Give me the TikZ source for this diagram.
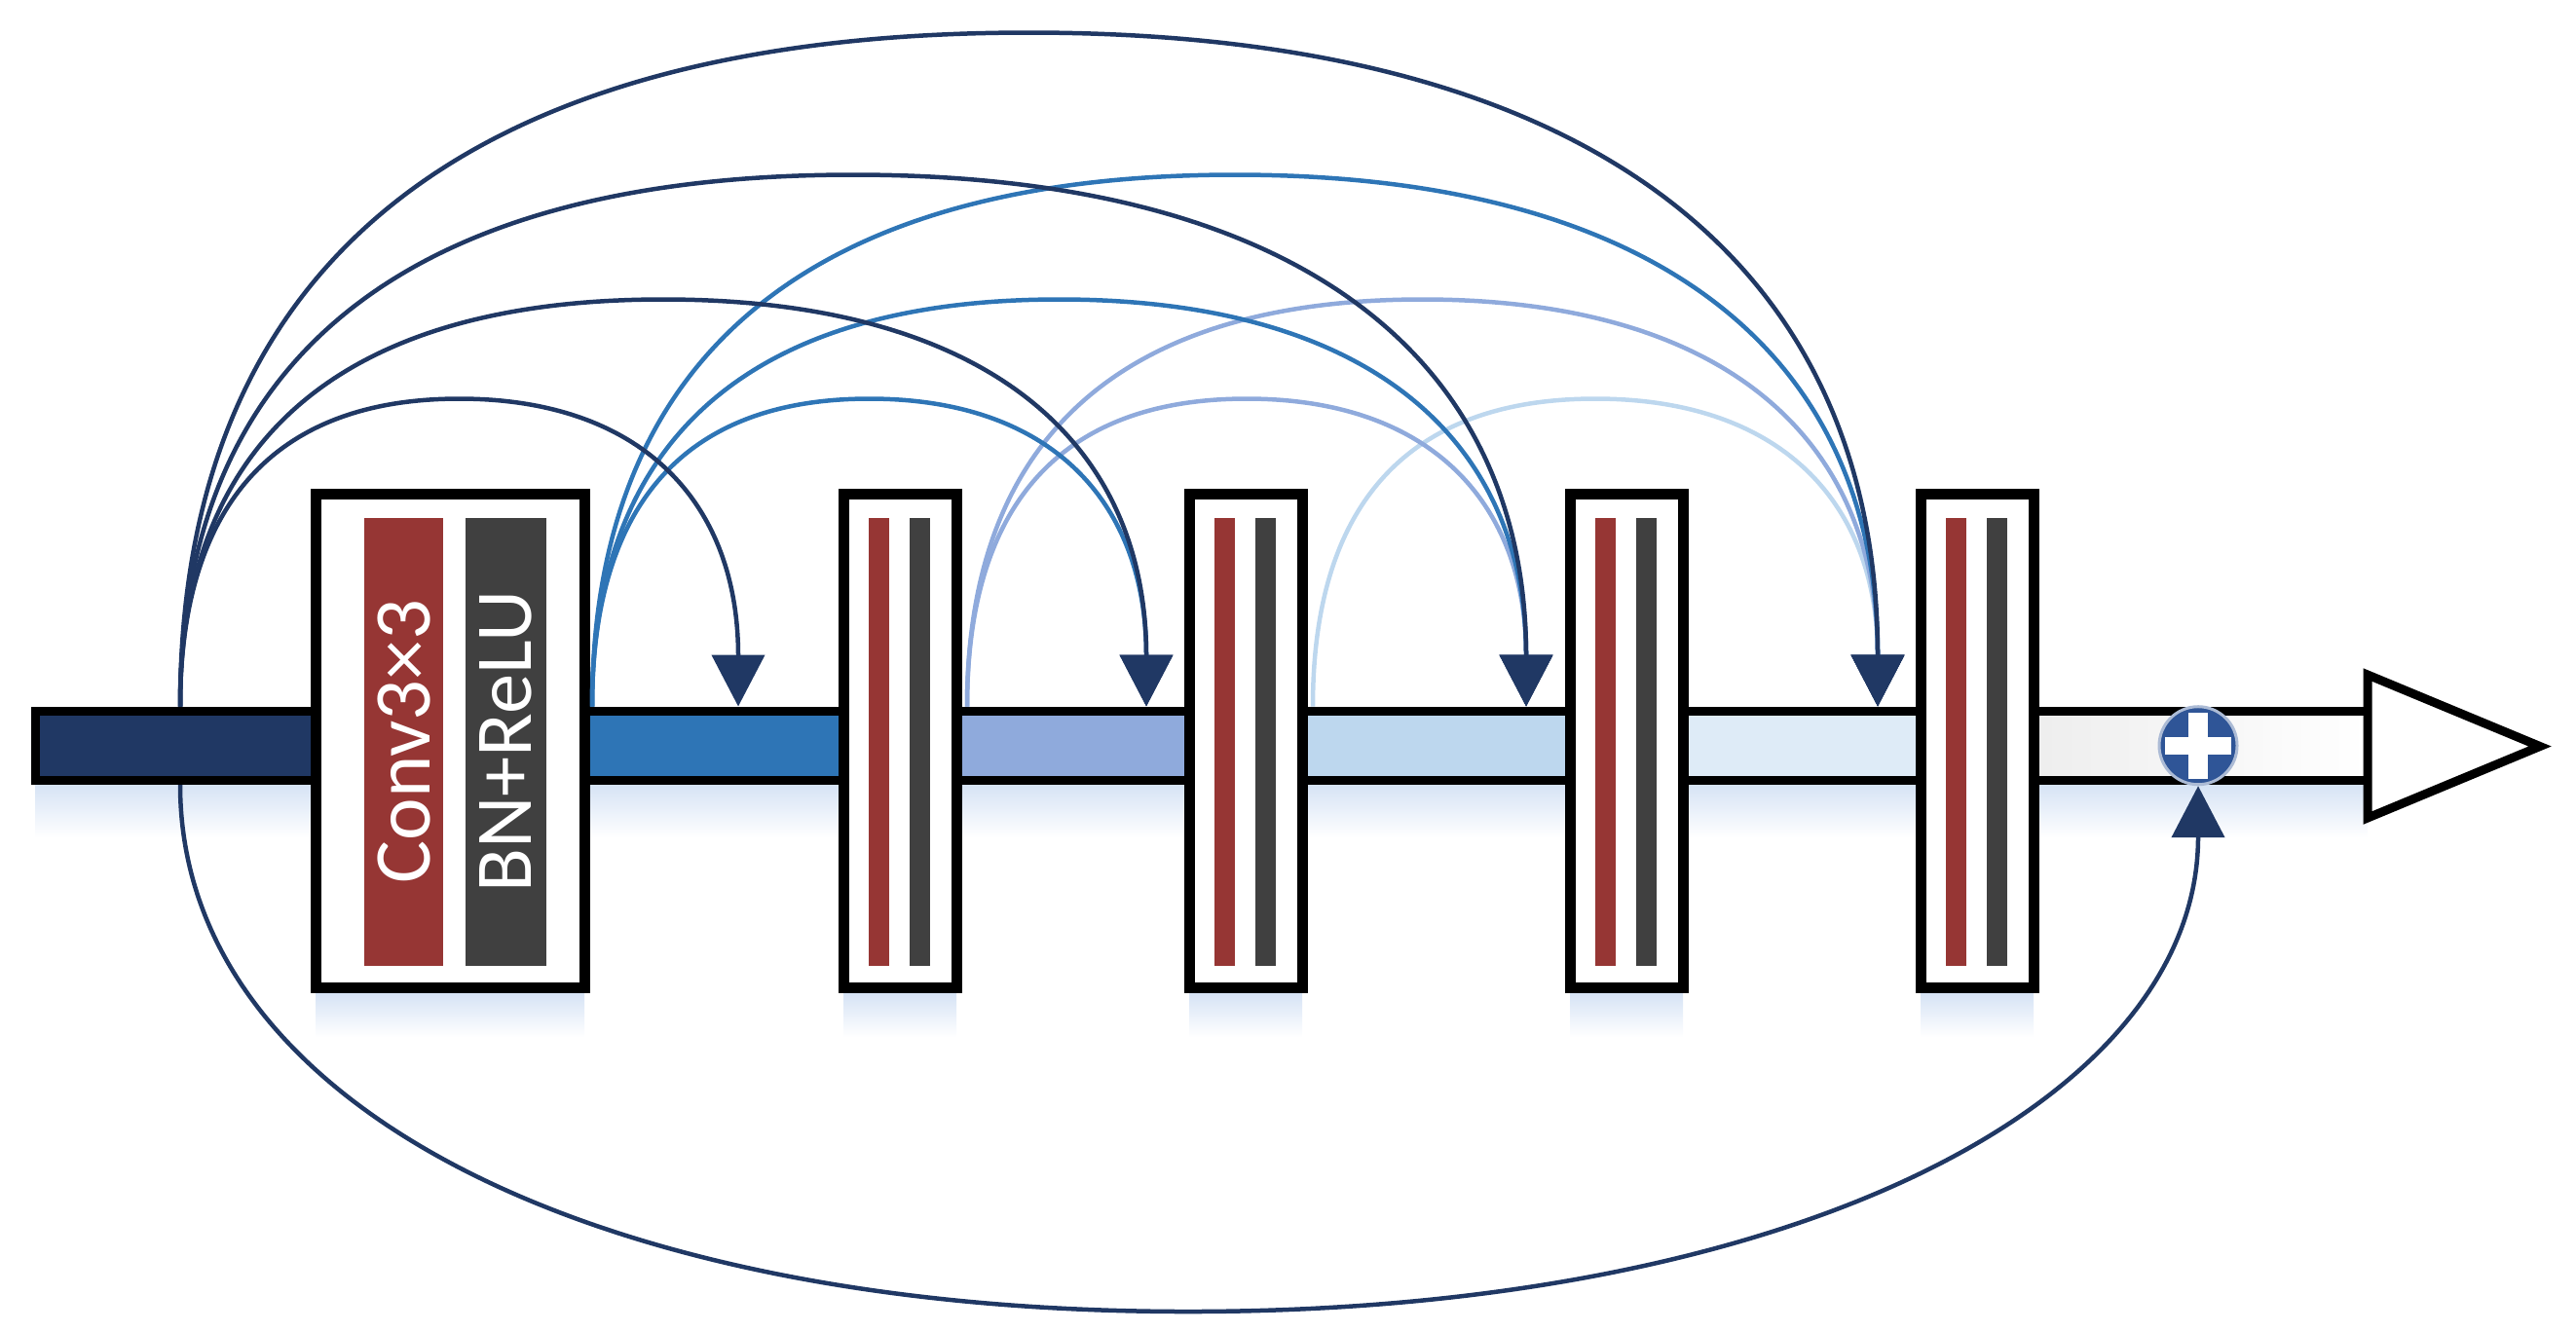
\documentclass[tikz,border=0pt]{standalone}
\usepackage{fontspec}
\setmainfont{Carlito}
\usepackage{tikz}
\usetikzlibrary{arrows.meta, positioning, calc}
\definecolor{navyblue}{RGB}{32, 56, 100}
\definecolor{midblue}{RGB}{46, 117, 182}
\definecolor{periwinkle}{RGB}{143, 170, 220}
\definecolor{paleblue}{RGB}{189, 215, 238}
\definecolor{palestblue}{RGB}{222, 235, 247}
\definecolor{convred}{RGB}{150, 54, 52}
\definecolor{bngray}{RGB}{64, 64, 64}
\definecolor{plusblue}{RGB}{47, 85, 151}
\definecolor{glowblue}{RGB}{214, 227, 245}

\begin{document}
\begin{tikzpicture}[
    layer/.style={rectangle, draw, fill=white, line width=1.1mm, minimum width=1.16cm, minimum height=5.07cm, inner sep=0pt},
    convlayer/.style={layer, minimum width=2.76cm},
    redstrip/.style={rectangle, fill=convred, minimum width=0.21cm, minimum height=4.6cm, inner sep=0pt},
    graystrip/.style={rectangle, fill=bngray, minimum width=0.21cm, minimum height=4.6cm, inner sep=0pt},
    striptext/.style={text=white, rotate=90, inner sep=0pt, font=\fontsize{23.5}{28}\selectfont},
    segment/.style={draw, line width=0.9mm},
    skip/.style={-{Triangle[width=5.4mm, length=5.3mm, color=navyblue]}, line width=0.45mm}
]
\useasboundingbox (0,0) rectangle (26.45,-13.67);

\shade[top color=glowblue, bottom color=white] (0.36,-8.06) rectangle (24.31,-8.6);
\shade[top color=glowblue, bottom color=white] (3.24,-10.2) rectangle (6.0,-10.65);
\shade[top color=glowblue, bottom color=white] (8.66,-10.2) rectangle (9.82,-10.65);
\shade[top color=glowblue, bottom color=white] (12.21,-10.2) rectangle (13.37,-10.65);
\shade[top color=glowblue, bottom color=white] (16.12,-10.2) rectangle (17.28,-10.65);
\shade[top color=glowblue, bottom color=white] (19.72,-10.2) rectangle (20.88,-10.65);

\draw[segment, fill=navyblue] (0.36,-7.30) rectangle (4.62,-8.015);
\draw[segment, fill=midblue] (4.62,-7.30) rectangle (9.24,-8.015);
\draw[segment, fill=periwinkle] (9.24,-7.30) rectangle (12.79,-8.015);
\draw[segment, fill=paleblue] (12.79,-7.30) rectangle (16.70,-8.015);
\draw[segment, fill=palestblue] (16.70,-7.30) rectangle (20.30,-8.015);
\shade[left color=black!8, right color=white] (20.30,-7.30) rectangle (24.31,-8.015);
\draw[segment] (20.30,-7.30) -- (24.31,-7.30);
\draw[segment] (20.30,-8.015) -- (24.31,-8.015);
\draw[segment, fill=white, line join=miter] (24.31,-6.93) -- (26.08,-7.665) -- (24.31,-8.40) -- cycle;

\node[convlayer] (conv) at (4.62,-7.61) {};
\node[redstrip, minimum width=0.81cm] (convbar) at (4.145,-7.615) {};
\node[graystrip, minimum width=0.83cm] (bnbar) at (5.195,-7.615) {};
\node[striptext] (convtext) at (convbar.center) {Conv3×3};
\node[striptext] (bntext) at (bnbar.center) {BN+ReLU};

\node[layer] (l1) at (9.24,-7.61) {};
\node[redstrip] (l1r) at (9.025,-7.615) {};
\node[graystrip] (l1g) at (9.445,-7.615) {};
\node[layer] (l2) at (12.79,-7.61) {};
\node[redstrip] (l2r) at (12.575,-7.615) {};
\node[graystrip] (l2g) at (12.995,-7.615) {};
\node[layer] (l3) at (16.70,-7.61) {};
\node[redstrip] (l3r) at (16.485,-7.615) {};
\node[graystrip] (l3g) at (16.905,-7.615) {};
\node[layer] (l4) at (20.30,-7.61) {};
\node[redstrip] (l4r) at (20.085,-7.615) {};
\node[graystrip] (l4g) at (20.505,-7.615) {};

\node[circle, fill=plusblue, draw=white!60!plusblue, line width=0.3mm, minimum size=0.8cm, inner sep=0pt] (sum) at (22.57,-7.657) {};
\fill[white] ([shift={(-0.1,-0.34)}]sum.center) rectangle ([shift={(0.1,0.34)}]sum.center);
\fill[white] ([shift={(-0.34,-0.09)}]sum.center) rectangle ([shift={(0.34,0.09)}]sum.center);

\coordinate (s0) at (1.85,-7.255);
\coordinate (s0b) at (1.85,-8.06);
\coordinate (s1) at (6.08,-7.255);
\coordinate (s2) at (9.93,-7.255);
\coordinate (s3) at (13.48,-7.255);
\coordinate (t1) at (7.58,-7.255);
\coordinate (t2) at (11.77,-7.255);
\coordinate (t3) at (15.67,-7.255);
\coordinate (t4) at (19.28,-7.255);
\coordinate (low) at (12.2,-13.47);

\draw[skip, paleblue] (s3) .. controls +(0,2.09) and +(-1.91,0) .. ($(s3)!0.5!(t4)+(0,3.16)$) .. controls +(1.91,0) and +(0,2.09) .. (t4);
\draw[skip, periwinkle] (s2) .. controls +(0,2.09) and +(-1.89,0) .. ($(s2)!0.5!(t3)+(0,3.16)$) .. controls +(1.89,0) and +(0,2.09) .. (t3);
\draw[skip, periwinkle] (s2) .. controls +(0,2.76) and +(-3.09,0) .. ($(s2)!0.5!(t4)+(0,4.18)$) .. controls +(3.09,0) and +(0,2.76) .. (t4);
\draw[skip, midblue] (s1) .. controls +(0,2.09) and +(-1.88,0) .. ($(s1)!0.5!(t2)+(0,3.16)$) .. controls +(1.88,0) and +(0,2.09) .. (t2);
\draw[skip, midblue] (s1) .. controls +(0,2.76) and +(-3.16,0) .. ($(s1)!0.5!(t3)+(0,4.18)$) .. controls +(3.16,0) and +(0,2.76) .. (t3);
\draw[skip, midblue] (s1) .. controls +(0,3.60) and +(-4.36,0) .. ($(s1)!0.5!(t4)+(0,5.46)$) .. controls +(4.36,0) and +(0,3.60) .. (t4);
\draw[skip, navyblue] (s0) .. controls +(0,2.09) and +(-1.88,0) .. ($(s0)!0.5!(t1)+(0,3.16)$) .. controls +(1.88,0) and +(0,2.09) .. (t1);
\draw[skip, navyblue] (s0) .. controls +(0,2.76) and +(-3.27,0) .. ($(s0)!0.5!(t2)+(0,4.18)$) .. controls +(3.27,0) and +(0,2.76) .. (t2);
\draw[skip, navyblue] (s0) .. controls +(0,3.60) and +(-4.55,0) .. ($(s0)!0.5!(t3)+(0,5.46)$) .. controls +(4.55,0) and +(0,3.60) .. (t3);
\draw[skip, navyblue] (s0) .. controls +(0,4.57) and +(-5.75,0) .. ($(s0)!0.5!(t4)+(0,6.92)$) .. controls +(5.75,0) and +(0,4.57) .. (t4);
\draw[skip, navyblue] (s0b) .. controls +(0,-3.25) and +(-6.2,0) .. (low) .. controls +(6.2,0) and +(0,-3.25) .. (sum.south);
\end{tikzpicture}
\end{document}
